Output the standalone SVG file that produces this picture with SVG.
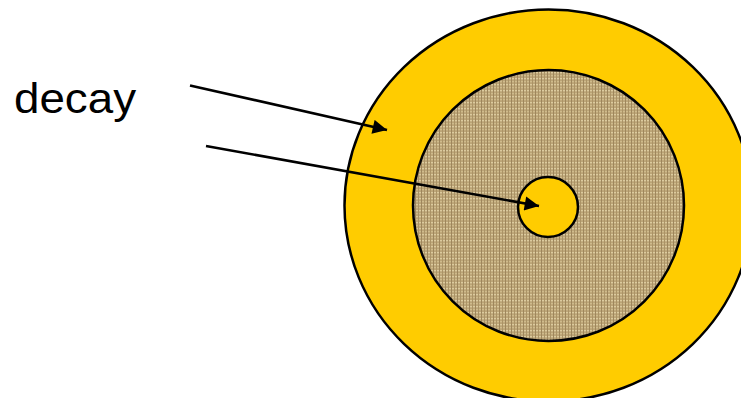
<svg xmlns="http://www.w3.org/2000/svg" width="741" height="398" viewBox="0 0 741 398">
<style>
.ring{fill:#FFCC00;stroke:#000;stroke-width:2.5}
.core{fill:url(#burlap);stroke:#000;stroke-width:2.5}
.arrow{stroke:#000;stroke-width:2.6;fill:none;marker-end:url(#ah)}
.label{font-family:"Liberation Sans",Arial,sans-serif;font-size:42px;fill:#000}
</style>
<defs>
<pattern id="burlap" width="6" height="6" patternUnits="userSpaceOnUse">
<rect width="6" height="6" fill="#bca577"/>
<rect x="0" y="0" width="6" height="1.3" fill="#dccb9f"/>
<rect x="0" y="3" width="6" height="1.2" fill="#cfbb8c"/>
<rect x="1" y="0" width="1" height="6" fill="#9e865c"/>
<rect x="4" y="0" width="1" height="6" fill="#ab9366"/>
</pattern>
<marker id="ah" viewBox="0 0 10 10" refX="10" refY="5" markerWidth="6" markerHeight="5.5" orient="auto" markerUnits="strokeWidth">
<path d="M0,0 L10,5 L0,10 z" fill="#000"/>
</marker>
</defs>
<g id="outer"><ellipse class="ring" cx="548.5" cy="205.5" rx="204" ry="196"/></g>
<g id="middle"><circle class="core" cx="548.5" cy="205.5" r="135.5"/></g>
<g id="inner"><circle class="ring" cx="548" cy="207" r="30"/></g>
<g id="label"><text class="label" x="14" y="113" textLength="122" lengthAdjust="spacingAndGlyphs">decay</text></g>
<g id="connectors">
<line class="arrow" x1="190" y1="85.5" x2="387" y2="130"/>
<line class="arrow" x1="206" y1="146" x2="539" y2="206"/>
</g>
</svg>
